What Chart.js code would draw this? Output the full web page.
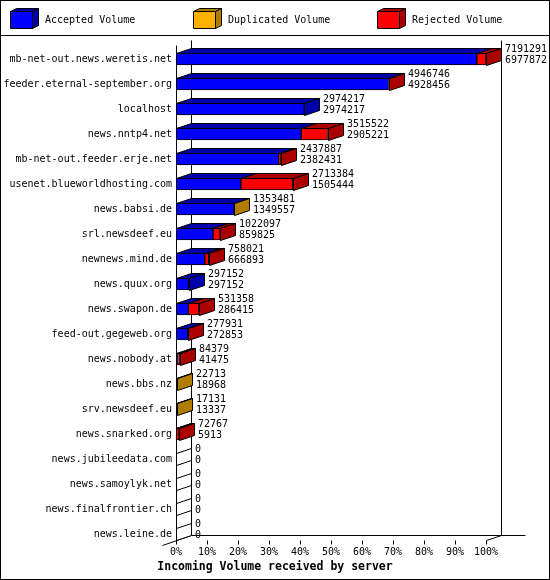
<!DOCTYPE html>
<html>
<head>
    <meta charset="UTF-8">
    <title>Incoming Volume received by server</title>
    <style>
        body { margin: 0; background: #fff; }
        #volumeChart { display: block; }
    </style>
</head>
<body>
    <canvas id="volumeChart" width="550" height="580"></canvas>

    <script src="https://cdn.jsdelivr.net/npm/chart.js@4.4.1/dist/chart.umd.min.js"></script>
    <script>
        var servers = [
            'mb-net-out.news.weretis.net', 'feeder.eternal-september.org', 'localhost',
            'news.nntp4.net', 'mb-net-out.feeder.erje.net', 'usenet.blueworldhosting.com',
            'news.babsi.de', 'srl.newsdeef.eu', 'newnews.mind.de', 'news.quux.org',
            'news.swapon.de', 'feed-out.gegeweb.org', 'news.nobody.at', 'news.bbs.nz',
            'srv.newsdeef.eu', 'news.snarked.org', 'news.jubileedata.com', 'news.samoylyk.net',
            'news.finalfrontier.ch', 'news.leine.de'
        ];
        var accepted   = [6977872, 4928456, 2974217, 2905221, 2382431, 1505444, 1349557, 859825, 666893, 297152,
                          286415, 272853, 41475, 18968, 13337, 5913, 0, 0, 0, 0];
        var duplicated = [0, 0, 0, 0, 0, 0, 3924, 0, 0, 0,
                          0, 0, 0, 3745, 3794, 0, 0, 0, 0, 0];
        var rejected   = [213419, 18290, 0, 610301, 55456, 1207940, 0, 162272, 91128, 0,
                          244943, 5078, 42904, 0, 0, 66854, 0, 0, 0, 0];
        var seriesNames = ['Accepted Volume', 'Duplicated Volume', 'Rejected Volume'];
        var percentTicks = [0, 10, 20, 30, 40, 50, 60, 70, 80, 90, 100];
        var chartTitle = 'Incoming Volume received by server';

        var frontColors = ['#0000ff', '#ffb000', '#ff0000'];
        var shadeColors = ['#0000aa', '#b07c00', '#aa0000'];
        var MONO = '"DejaVu Sans Mono", monospace';
        var DX = 15, DY = 5;   // depth of the fake 3d

        var totals = servers.map(function(s, i) { return accepted[i] + duplicated[i] + rejected[i]; });
        var maxTotal = Math.max.apply(null, totals);

        function px(v) { return Math.round(v) + 0.5; }

        function poly(ctx, pts, fill) {
            ctx.beginPath();
            ctx.moveTo(px(pts[0][0]), px(pts[0][1]));
            for (var i = 1; i < pts.length; i++) ctx.lineTo(px(pts[i][0]), px(pts[i][1]));
            ctx.closePath();
            ctx.fillStyle = fill;
            ctx.fill();
            ctx.stroke();
        }

        function floorY(chart) {
            var meta = chart.getDatasetMeta(0);
            var el = meta.data[meta.data.length - 1];
            return el.y + el.height / 2;
        }

        // walls, 3d faces, value labels, legend, title and frame
        var fake3d = {
            id: 'fake3d',
            beforeDatasetsDraw: function(chart) {
                var ctx = chart.ctx, a = chart.chartArea, fy = floorY(chart);
                ctx.save();
                ctx.strokeStyle = '#000';
                ctx.lineWidth = 1;
                ctx.beginPath();
                ctx.moveTo(px(a.left + DX), px(a.top - 7));
                ctx.lineTo(px(a.left + DX), px(fy - DY));
                ctx.moveTo(px(a.right + DX), px(a.top - 7));
                ctx.lineTo(px(a.right + DX), px(fy - DY));
                ctx.moveTo(px(a.left + DX), px(fy - DY));
                ctx.lineTo(px(a.right + DX + 24), px(fy - DY));
                ctx.moveTo(px(a.left - 14), px(fy + 5));
                ctx.lineTo(px(a.left + DX), px(fy - DY));
                ctx.moveTo(px(a.right), px(fy));
                ctx.lineTo(px(a.right + DX), px(fy - DY));
                ctx.stroke();
                ctx.restore();
            },
            afterDatasetsDraw: function(chart) {
                var ctx = chart.ctx, a = chart.chartArea, fy = floorY(chart);
                var metas = chart.data.datasets.map(function(d, k) { return chart.getDatasetMeta(k); });
                ctx.save();
                ctx.strokeStyle = '#000';
                ctx.lineWidth = 1;
                servers.forEach(function(name, i) {
                    var endX = a.left, last = -1, cy = 0, top = 0, bot = 0;
                    metas.forEach(function(meta, k) {
                        var p = meta.data[i].getProps(['x', 'base', 'y', 'height'], true);
                        cy = p.y; top = p.y - p.height / 2; bot = p.y + p.height / 2;
                        var l = Math.min(p.x, p.base), r = Math.max(p.x, p.base);
                        if (r - l > 0.01) {
                            poly(ctx, [[l, top], [r, top], [r + DX, top - DY], [l + DX, top - DY]], shadeColors[k]);
                            endX = r; last = k;
                        }
                    });
                    poly(ctx, [[endX, top], [endX + DX, top - DY], [endX + DX, bot - DY], [endX, bot]],
                        last < 0 ? '#fff' : shadeColors[last]);

                    ctx.fillStyle = '#000';
                    ctx.font = '10px ' + MONO;
                    ctx.textAlign = 'left';
                    ctx.textBaseline = 'middle';
                    var tx = Math.round(endX + DX + 4);
                    ctx.fillText(String(totals[i]), tx, Math.round(cy - 10));
                    ctx.fillText(String(accepted[i]), tx, Math.round(cy + 1));
                });

                // front left edge and tick marks
                ctx.beginPath();
                ctx.moveTo(px(a.left), px(a.top - 2));
                ctx.lineTo(px(a.left), px(fy));
                var xs = chart.scales.x;
                xs.ticks.forEach(function(t, k) {
                    var x = xs.getPixelForTick(k);
                    ctx.moveTo(px(x), px(fy));
                    ctx.lineTo(px(x), px(fy + 4));
                });
                ctx.stroke();
                ctx.restore();
            },
            afterDraw: function(chart) {
                var ctx = chart.ctx;
                ctx.save();
                ctx.strokeStyle = '#000';
                ctx.lineWidth = 1;
                ctx.strokeRect(0.5, 0.5, chart.width - 1, chart.height - 1);
                ctx.beginPath();
                ctx.moveTo(0, 35.5);
                ctx.lineTo(chart.width, 35.5);
                ctx.stroke();

                chart.data.datasets.forEach(function(ds, k) {
                    var bx = Math.round(10 + k * 183.3), by = 11, w = 22, h = 17;
                    poly(ctx, [[bx, by], [bx + 6, by - 3], [bx + w + 6, by - 3], [bx + w, by]], shadeColors[k]);
                    poly(ctx, [[bx + w, by], [bx + w + 6, by - 3], [bx + w + 6, by + h - 3], [bx + w, by + h]], shadeColors[k]);
                    poly(ctx, [[bx, by], [bx + w, by], [bx + w, by + h], [bx, by + h]], frontColors[k]);
                    ctx.fillStyle = '#000';
                    ctx.font = '10px ' + MONO;
                    ctx.textAlign = 'left';
                    ctx.textBaseline = 'middle';
                    ctx.fillText(ds.label, bx + 35, 20);
                });

                ctx.font = 'bold 11.5px ' + MONO;
                ctx.textAlign = 'center';
                ctx.textBaseline = 'middle';
                ctx.fillText(chartTitle, chart.width / 2, 567);
                ctx.restore();
            }
        };

        new Chart('volumeChart', {
            type: 'bar',
            data: {
                labels: servers,
                datasets: [
                    { label: seriesNames[0], data: accepted, backgroundColor: frontColors[0] },
                    { label: seriesNames[1], data: duplicated, backgroundColor: frontColors[1] },
                    { label: seriesNames[2], data: rejected, backgroundColor: frontColors[2] }
                ]
            },
            options: {
                indexAxis: 'y',
                responsive: false,
                animation: false,
                events: [],
                layout: { padding: { top: 46.5, right: 64, left: 0, bottom: 21.5 } },
                datasets: {
                    bar: { barThickness: 12, borderWidth: 1, borderColor: '#000', borderSkipped: false }
                },
                scales: {
                    x: {
                        stacked: true,
                        min: 0,
                        max: maxTotal,
                        grid: { display: false, drawTicks: false },
                        border: { display: false },
                        afterBuildTicks: function(scale) {
                            scale.ticks = percentTicks.map(function(p) { return { value: p / 100 * maxTotal }; });
                        },
                        afterFit: function(scale) { scale.height = 12; },
                        ticks: {
                            padding: 0,
                            maxRotation: 0,
                            autoSkip: false,
                            color: '#000',
                            font: { family: MONO, size: 10 },
                            callback: function(value) { return Math.round(value / maxTotal * 100) + '%'; }
                        }
                    },
                    y: {
                        stacked: true,
                        grid: { display: false, drawTicks: false },
                        border: { display: false },
                        afterFit: function(scale) { scale.width = 176; },
                        ticks: {
                            padding: 4,
                            autoSkip: false,
                            color: '#000',
                            font: { family: MONO, size: 10 }
                        }
                    }
                },
                plugins: {
                    legend: { display: false },
                    tooltip: { enabled: false },
                    title: { display: false }
                }
            },
            plugins: [fake3d]
        });
    </script>
</body>
</html>
